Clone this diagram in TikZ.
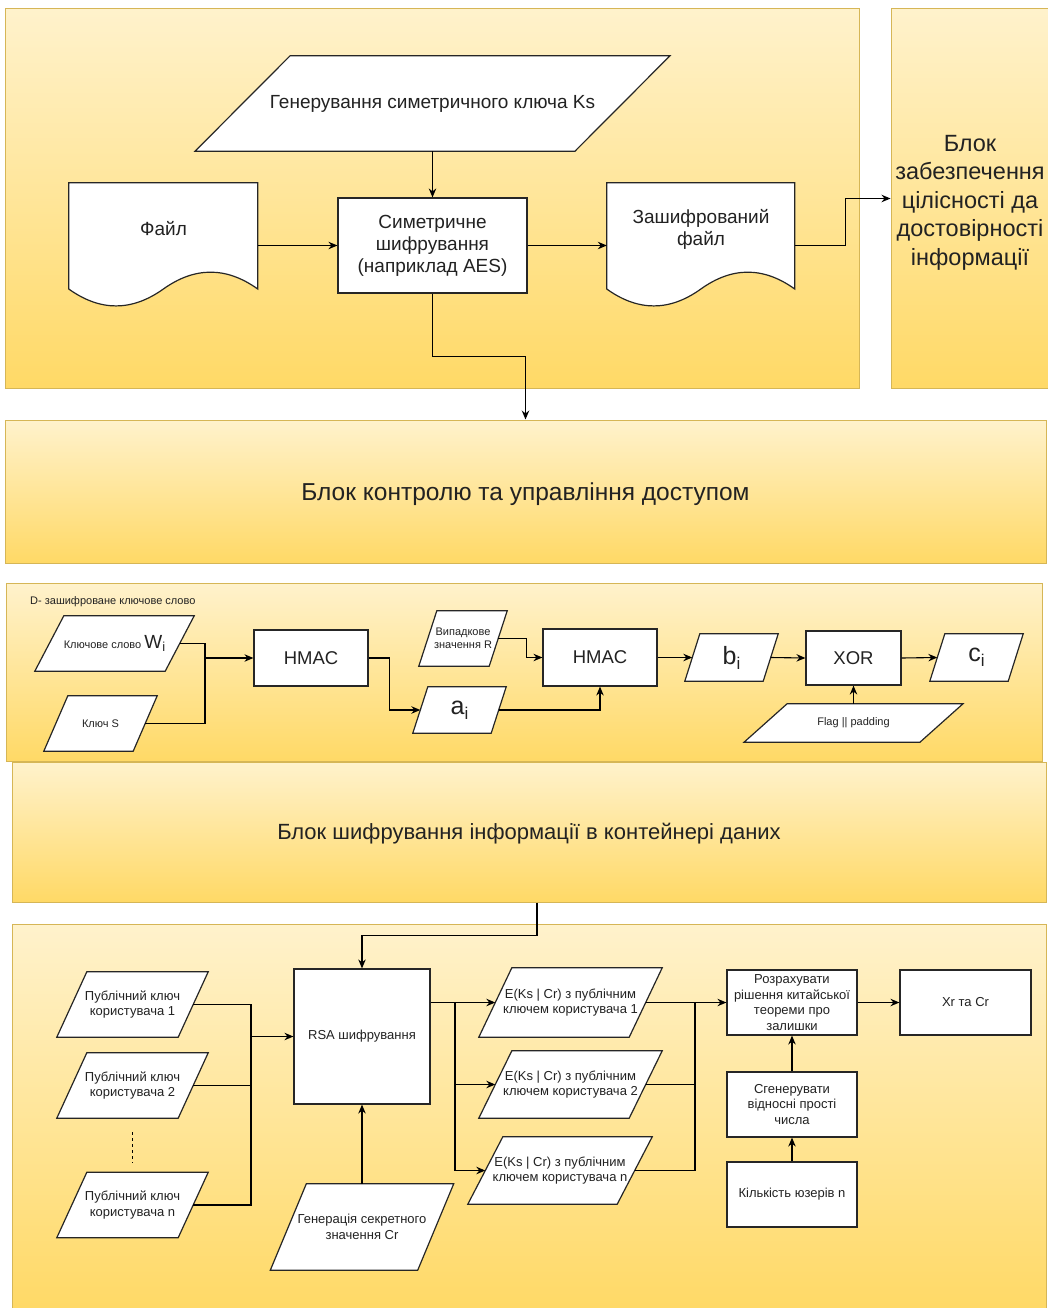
\documentclass[tikz,border=0pt]{standalone}
\usepackage{fontspec}
\setmainfont{Liberation Sans}
\usetikzlibrary{arrows.meta,calc}
\definecolor{ptop}{HTML}{FFF2CC}
\definecolor{pbot}{HTML}{FFD966}
\definecolor{pline}{HTML}{D6B656}
\definecolor{ink}{HTML}{222222}
\pgfdeclarelayer{panels}
\pgfdeclarelayer{shapes}
\pgfsetlayers{panels,shapes,main}

% font sizes (1pt = one unit of the drawing)
\newcommand\fsTop{\fontsize{19}{22}\selectfont}
\newcommand\fsSide{\fontsize{23.5}{28.5}\selectfont}
\newcommand\fsBandA{\fontsize{24.5}{28}\selectfont}
\newcommand\fsBandB{\fontsize{22}{26}\selectfont}
\newcommand\fsSmall{\fontsize{11}{13}\selectfont}
\newcommand\fsH{\fontsize{18.5}{22}\selectfont}
\newcommand\fsM{\fontsize{13}{15.5}\selectfont}
% letter with a lowered index i
\newcommand\idx[3]{{\fontsize{#1}{#1}\selectfont #2}\raisebox{-#3pt}{\fontsize{\numexpr#1*2/3\relax}{1}\selectfont i}}

% parallelogram drawn around a node: #2 = half of the slant
\newcommand\parashape[2]{\path[pshape] ([xshift=#2pt]#1.north west) -- ([xshift=#2pt]#1.north east) -- ([xshift=-#2pt]#1.south east) -- ([xshift=-#2pt]#1.south west) -- cycle;}
% document shape (wavy bottom) drawn around a node of width #2, height #3
\newcommand\docshape[3]{\path[pshape, shift={(#1.north west)}] (0,0) -- (#2,0) -- (#2,{0.85*#3}) .. controls ({0.8333*#2},{0.67*#3}) and ({0.6667*#2},{0.67*#3}) .. ({0.5*#2},{0.85*#3}) .. controls ({0.3333*#2},{1.03*#3}) and ({0.1667*#2},{1.03*#3}) .. (0,{0.85*#3}) -- cycle;}

\begin{document}
\begin{tikzpicture}[x=1pt,y=-1pt,
  panel/.style={draw=pline, line width=1pt, top color=ptop, bottom color=pbot, inner sep=0pt, text=ink, align=center},
  paneltext/.style={inner sep=0pt, text=ink, align=center},
  box/.style={draw=black!85, fill=white, line width=1.2pt, inner sep=0pt, align=center, text=ink},
  slot/.style={inner sep=0pt, align=center, text=ink},
  txt/.style={inner sep=0pt, align=center, text=ink},
  pshape/.style={draw=black!85, fill=white, line width=1.2pt},
  conn/.style={draw=black, line width=1.1pt},
  arr/.style={conn, -{Stealth[length=9pt,width=7.5pt,inset=3pt]}}
]
\useasboundingbox (0,0) rectangle (1047,1308);

% ---------- background blocks ----------
\begin{pgfonlayer}{panels}
\fill[white] (0,0) rectangle (1047,1308);
\node[panel, minimum width=854, minimum height=379] (encblk) at (432,198.5) {};
\node[panel, minimum width=158, minimum height=379,
  label={[paneltext, font=\fsSide, yshift=-4pt]center:Блок\\забезпечення\\цілісності да\\достовірності\\інформації}]
  (integ) at (970,198.5) {};
\node[panel, minimum width=1041, minimum height=143,
  label={[paneltext, font=\fsBandA, yshift=-3pt]center:Блок контролю та управління доступом}]
  (access) at (525.5,491.5) {};
\node[panel, minimum width=1036, minimum height=178] (hmacblk) at (524,672) {};
\node[panel, minimum width=1034, minimum height=140,
  label={[paneltext, font=\fsBandB, yshift=-2pt]center:Блок шифрування інформації в контейнері даних}]
  (cont) at (529,832) {};
\node[panel, minimum width=1034, minimum height=386] (rsablk) at (529,1117) {};
\end{pgfonlayer}

% ---------- symmetric encryption ----------
\node[slot, minimum width=379.5, minimum height=95, font=\fsTop] (genks) at (432.5,103.5)
  {Генерування симетричного ключа Ks};
\node[box, minimum width=189, minimum height=95, font=\fsTop] (sym) at (432.5,245.5)
  {Симетричне\\шифрування\\(наприклад AES)};
\node[slot, minimum width=189, minimum height=125] (file) at (163.5,245.5) {};
\node[txt, font=\fsTop] (filet) at ([yshift=16.5pt]file.center) {Файл};
\node[slot, minimum width=188, minimum height=125] (enc) at (701,245.5) {};
\node[txt, font=\fsTop] (enct) at ([yshift=16.5pt]enc.center) {Зашифрований\\файл};

% ---------- keyword block ----------
\node[txt, anchor=west, font=\fsSmall] (dlabel) at (30,602) {D- зашифроване ключове слово};
\node[slot, minimum width=130, minimum height=55, font=\fsSmall] (kw) at (114.5,643.5)
  {Ключове слово \idx{19}{W}{3}};
\node[slot, minimum width=89, minimum height=55, font=\fsSmall] (ks) at (100.5,723.5) {Ключ S};
\node[box, minimum width=114, minimum height=56, font=\fsH] (hm1) at (311,658) {HMAC};
\node[slot, minimum width=70, minimum height=55, font=\fsSmall] (rv) at (463,638.5)
  {Випадкове\\значення R};
\node[slot, minimum width=78, minimum height=46] (ai) at (459.5,710) {\idx{25}{a}{5}};
\node[box, minimum width=114, minimum height=57, font=\fsH] (hm2) at (600,657.5) {HMAC};
\node[slot, minimum width=78, minimum height=47] (bi) at (731.5,657.5) {\idx{25}{b}{5}};
\node[box, minimum width=95, minimum height=54, font=\fsH] (xor) at (853.5,658) {XOR};
\node[slot, minimum width=78, minimum height=47] (ci) at (976.5,657.5) {\idx{25}{c}{5}};
\node[slot, minimum width=175.5, minimum height=38, font=\fsSmall] (flag) at (853.5,723) {Flag || padding};

% ---------- container encryption ----------
\node[box, minimum width=136, minimum height=135, font=\fsM] (rsa) at (362,1036.5) {RSA шифрування};
\node[slot, minimum width=121, minimum height=65, font=\fsM] (k1) at (132.5,1004.5) {Публічний ключ\\користувача 1};
\node[slot, minimum width=121, minimum height=65, font=\fsM] (k2) at (132.5,1085.5) {Публічний ключ\\користувача 2};
\node[slot, minimum width=121, minimum height=65, font=\fsM] (kn) at (132.5,1205) {Публічний ключ\\користувача n};
\node[slot, minimum width=147, minimum height=86, font=\fsM] (gcr) at (362,1227) {Генерація секретного\\значення Cr};
\node[slot, minimum width=150, minimum height=69, font=\fsM] (e1) at (570.5,1002.5) {E(Ks | Cr) з публічним\\ключем користувача 1};
\node[slot, minimum width=150, minimum height=67, font=\fsM] (e2) at (570.5,1084.5) {E(Ks | Cr) з публічним\\ключем користувача 2};
\node[slot, minimum width=149, minimum height=67, font=\fsM] (en) at (560,1170.5) {E(Ks | Cr) з публічним\\ключем користувача n};
\node[box, minimum width=130, minimum height=65, font=\fsM] (crt) at (792,1002.5) {Розрахувати\\рішення китайської\\теореми про\\залишки};
\node[box, minimum width=131, minimum height=65, font=\fsM] (xr) at (965.5,1002.5) {Xr та Cr};
\node[box, minimum width=130, minimum height=65, font=\fsM] (prm) at (792,1104.5) {Сгенерувати\\відносні прості\\числа};
\node[box, minimum width=130, minimum height=65, font=\fsM] (cnt) at (792,1194.5) {Кількість юзерів n};

% ---------- outlines of parallelograms and documents ----------
\begin{pgfonlayer}{shapes}
\parashape{genks}{47.5}
\docshape{file}{189}{125}
\docshape{enc}{188}{125}
\parashape{kw}{14.5}
\parashape{ks}{12}
\parashape{rv}{9}
\parashape{ai}{7.5}
\parashape{bi}{7.5}
\parashape{ci}{7.5}
\parashape{flag}{21.5}
\parashape{k1}{15}
\parashape{k2}{15}
\parashape{kn}{15}
\parashape{gcr}{18}
\parashape{e1}{16.5}
\parashape{e2}{16.5}
\parashape{en}{17.5}
\end{pgfonlayer}

% ---------- connectors: symmetric encryption ----------
\draw[arr] (genks.south) -- (sym.north);
\draw[arr] (file.east) -- (sym.west);
\draw[arr] (sym.east) -- (enc.west);
\draw[arr] (enc.east) -- ++(50,0) |- (integ.west);
\draw[arr] (sym.south) -- ++(0,62.5) -| (access.north);

% ---------- connectors: keyword block ----------
\coordinate (j1) at (205,658);
\draw[conn] (kw.east) -| (j1);
\draw[conn] (ks.east) -| (j1);
\draw[arr] (j1) -- (hm1.west);
\draw[arr] (hm1.east) -- ++(21,0) |- (ai.west);
\draw[arr] (ai.east) -| (hm2.south);
\draw[arr] (rv.east) -- ++(28,0) |- (hm2.west);
\draw[arr] (hm2.east) -- (bi.west);
\draw[arr] (bi.east) -- (xor.west);
\draw[arr] (xor.east) -- (ci.west);
\draw[arr] (flag.north) -- (xor.south);

% ---------- connectors: container encryption ----------
\draw[arr] ([xshift=8pt]cont.south) -- ++(0,33) -| (rsa.north);
\draw[conn, dash pattern=on 3pt off 3pt, line width=0.9pt] ([yshift=-14pt]k2.south) -- ([yshift=10pt]kn.north);
\coordinate (j2) at (251,1036.5);
\draw[conn] (k1.east) -| (j2);
\draw[conn] (kn.east) -| (j2);
\draw[conn] (k2.east) -- (k2.east -| j2);
\draw[arr] (j2) -- (rsa.west);
\draw[arr] (gcr.north) -- (rsa.south);
\coordinate (j3) at (455,1002.5);
\draw[conn] ([yshift=34pt]rsa.east) -- (j3);
\draw[arr] (j3) -- (e1.west);
\draw[arr] (j3) |- (e2.west);
\draw[arr] (j3) |- (en.west);
\coordinate (j4) at (695,1002.5);
\draw[conn] (e2.east) -| (j4);
\draw[conn] (en.east) -| (j4);
\draw[arr] (e1.east) -- (crt.west);
\draw[arr] (crt.east) -- (xr.west);
\draw[arr] (prm.north) -- (crt.south);
\draw[arr] (cnt.north) -- (prm.south);
\end{tikzpicture}
\end{document}
